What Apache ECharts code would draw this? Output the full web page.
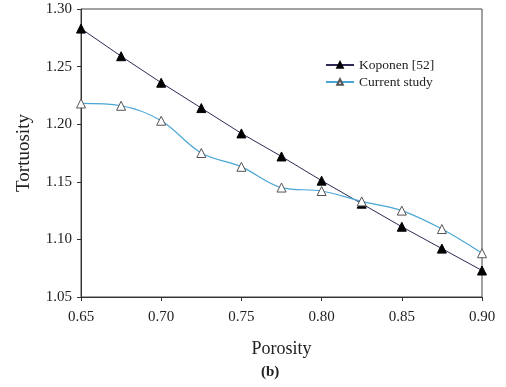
<!DOCTYPE html>
<html>
<head>
<meta charset="utf-8">
<script src="https://cdn.jsdelivr.net/npm/echarts@6/dist/echarts.min.js"></script>
<style>
html,body{margin:0;padding:0;background:#fff;}
#chart{width:506px;height:387px;}
</style>
</head>
<body>
<div id="chart"></div>
<script>
var porosity = [0.65, 0.675, 0.70, 0.725, 0.75, 0.775, 0.80, 0.825, 0.85, 0.875, 0.90];
var koponen = [1.283, 1.259, 1.236, 1.214, 1.192, 1.172, 1.151, 1.131, 1.111, 1.092, 1.073];
var current = [1.218, 1.216, 1.203, 1.175, 1.163, 1.145, 1.142, 1.133, 1.125, 1.109, 1.088];
var xTicks = [0.65, 0.70, 0.75, 0.80, 0.85, 0.90];
var yTicks = [1.05, 1.10, 1.15, 1.20, 1.25, 1.30];

var serif = '"Liberation Serif", "DejaVu Serif", serif';
function pairs(xs, ys){ return xs.map(function(x,i){ return [x, ys[i]]; }); }

var chart = echarts.init(document.getElementById('chart'), null, {renderer:'canvas'});
chart.setOption({
  animation: false,
  backgroundColor: '#fff',
  grid: {left: 81, right: 24, top: 9, bottom: 90, show: true, borderColor: '#444', borderWidth: 1},
  legend: {
    left: 320, top: 53, orient: 'vertical', itemWidth: 28, itemHeight: 7, itemGap: 3,
    textStyle: {fontFamily: serif, fontSize: 13.5, color: '#222'},
    data: ['Koponen [52]', 'Current study']
  },
  xAxis: {
    type: 'value', min: 0.65, max: 0.90, interval: 0.05,
    name: 'Porosity', nameLocation: 'middle', nameGap: 43,
    nameTextStyle: {fontFamily: serif, fontSize: 18, color: '#222'},
    axisLine: {onZero: false, lineStyle: {color: '#333', width: 1}},
    axisTick: {show: true, length: 4, inside: false, lineStyle: {color: '#333'}},
    axisLabel: {fontFamily: serif, fontSize: 15, color: '#222', margin: 13,
      formatter: function(v){ return v.toFixed(2); }},
    splitLine: {show: false}
  },
  yAxis: {
    type: 'value', min: 1.05, max: 1.30, interval: 0.05,
    name: 'Tortuosity', nameLocation: 'middle', nameGap: 47,
    nameTextStyle: {fontFamily: serif, fontSize: 19, color: '#222'},
    axisLine: {show: true, lineStyle: {color: '#333', width: 1}},
    axisTick: {show: true, length: 4, inside: false, lineStyle: {color: '#333'}},
    axisLabel: {fontFamily: serif, fontSize: 15, color: '#222', margin: 9,
      formatter: function(v){ return v.toFixed(2); }},
    splitLine: {show: false}
  },
  series: [
    {
      name: 'Koponen [52]', type: 'line', data: pairs(porosity, koponen),
      symbol: 'triangle', symbolSize: 9,
      lineStyle: {color: '#2e2a55', width: 1},
      itemStyle: {color: '#000', borderColor: '#000', borderWidth: 1},
      z: 3
    },
    {
      name: 'Current study', type: 'line', data: pairs(porosity, current),
      smooth: 0.35,
      symbol: 'triangle', symbolSize: 9,
      lineStyle: {color: '#4aa6d6', width: 1.2},
      itemStyle: {color: '#fff', borderColor: '#555', borderWidth: 1},
      z: 4
    }
  ],
  graphic: [
    {type: 'text', left: 261, top: 365,
     style: {text: '(b)', font: 'bold 15px ' + serif, fill: '#222'}}
  ]
});
</script>
</body>
</html>
